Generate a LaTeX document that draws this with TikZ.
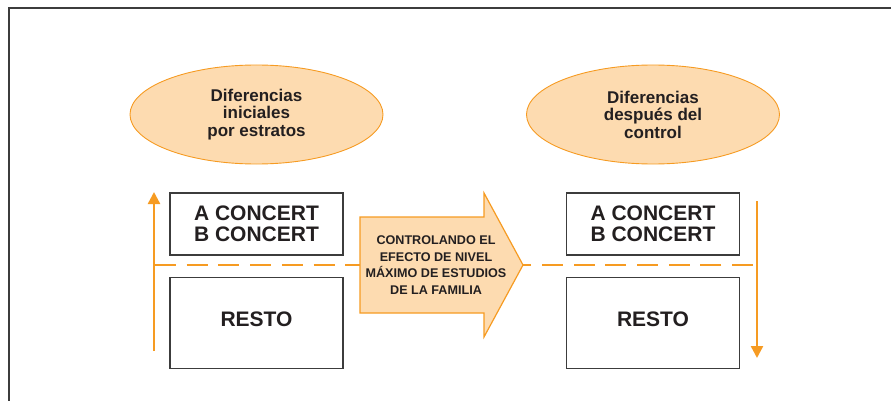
\documentclass[tikz,border=0pt]{standalone}
\usepackage{fontspec}
\setmainfont{Liberation Sans}
\usepackage{tikz}
\usetikzlibrary{shapes.geometric, arrows.meta, positioning, calc}
\definecolor{ctrl-orange}{HTML}{F69B22}
\definecolor{ctrl-fill}{HTML}{FDDBB0}
\definecolor{ctrl-dark}{HTML}{231F20}
\definecolor{ctrl-gray}{HTML}{3C3C3C}

\begin{document}
\begin{tikzpicture}[
    x=1pt, y=-1pt,
    node distance=21pt,
    group/.style={ellipse, draw=ctrl-orange, line width=0.9pt, fill=ctrl-fill, minimum width=253pt, minimum height=99pt, inner sep=0pt, align=center, text=ctrl-dark, font=\bfseries\fontsize{17}{17.5}\selectfont},
    box/.style={rectangle, draw=ctrl-gray, line width=1.3pt, fill=white, minimum width=173pt, inner sep=0pt, align=center, text=ctrl-dark, font=\bfseries\fontsize{21}{20.7}\selectfont},
    axis/.style={line width=2.4pt, ctrl-orange, -{Triangle[width=12pt,length=12pt]}},
    split/.style={line width=2.2pt, ctrl-orange, dash pattern=on 21pt off 10.7pt}
]
    \useasboundingbox (0,0) rectangle (891,401);
    % frame
    \draw[ctrl-gray, line width=1.4pt] (9,401) -- (9,8) -- (891,8);

    % initial differences
    \node[group] (ini) at (256.5,114.5) {Diferencias\\iniciales\\por estratos};
    \node[box, minimum height=62pt] (ab1) at (256.5,224) {A CONCERT\\B CONCERT};
    \node[box, minimum height=91pt, text depth=6.5pt, below=of ab1] (rest1) {RESTO};

    % differences after control
    \node[group] (fin) at (653,114.5) {Diferencias\\después del\\control};
    \node[box, minimum height=62pt] (ab2) at (653,224) {A CONCERT\\B CONCERT};
    \node[box, minimum height=91pt, text depth=6.5pt, below=of ab2] (rest2) {RESTO};

    % control arrow
    \coordinate (tail) at (360,265);
    \coordinate (tip) at (523,265);
    \draw[ctrl-orange, line width=1.2pt, fill=ctrl-fill, line join=miter]
        (tail) -- (360,217) -- (484,217) -- (484,193) -- (tip)
        -- (484,337) -- (484,313) -- (360,313) -- cycle;
    \node[align=center, text=ctrl-dark, font=\bfseries\fontsize{12.6}{16.5}\selectfont] (ctrl) at (436,265)
        {CONTROLANDO EL\\EFECTO DE NIVEL\\MÁXIMO DE ESTUDIOS\\DE LA FAMILIA};

    % axes
    \coordinate (up-a) at (154,351);
    \coordinate (up-b) at (154,192);
    \coordinate (dn-a) at (757,201);
    \coordinate (dn-b) at (757,358);
    \draw[axis] (up-a) -- (up-b);
    \draw[axis] (dn-a) -- (dn-b);

    % split line
    \coordinate (split-l) at (155,265);
    \coordinate (split-r) at (753,265);
    \draw[split] (split-l) -- (tail);
    \draw[split] (split-r) -- (tip);
\end{tikzpicture}
\end{document}
